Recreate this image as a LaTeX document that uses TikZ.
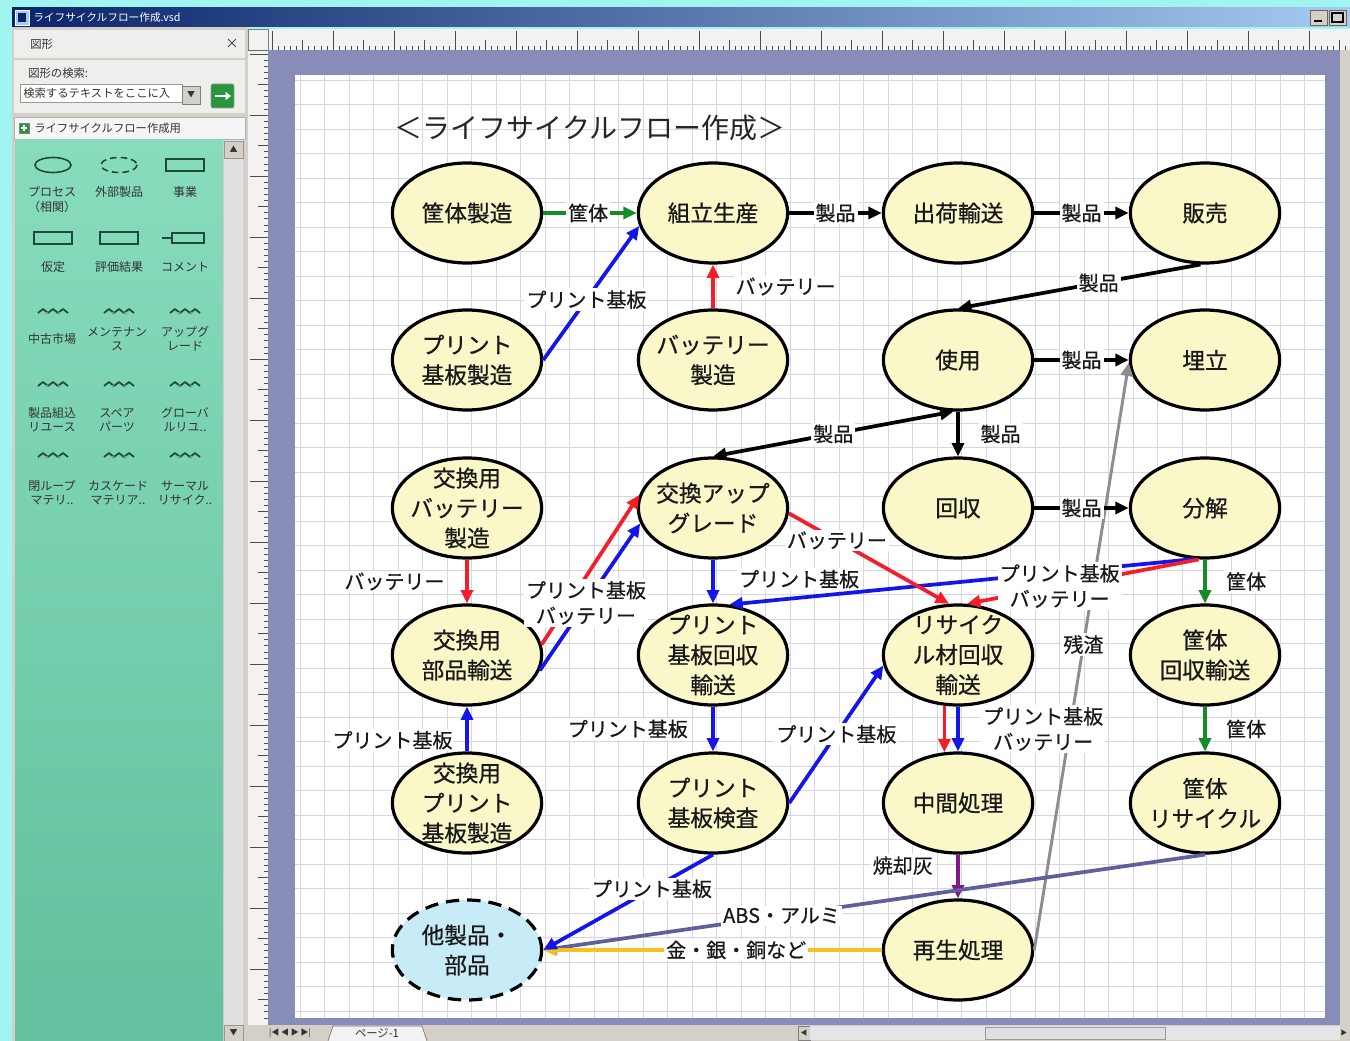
\documentclass[tikz,border=0pt]{standalone}
\usepackage{fontspec}
\setmainfont{Noto Sans CJK JP}
\newfontfamily\jpthick{Noto Sans CJK JP}[FakeBold=0.7]
\usetikzlibrary{shapes.geometric,arrows.meta,calc}
\definecolor{aqua}{RGB}{160,245,240}
\definecolor{navy}{RGB}{10,36,106}
\definecolor{tbright}{RGB}{166,202,240}
\definecolor{panelgray}{RGB}{212,208,200}
\definecolor{paneltop}{RGB}{238,238,236}
\definecolor{mintl}{RGB}{135,220,188}
\definecolor{mintd}{RGB}{100,192,158}
\definecolor{canvasblue}{RGB}{135,140,185}
\definecolor{rulerc}{RGB}{242,242,242}
\definecolor{gridc}{RGB}{212,214,226}
\definecolor{procfill}{RGB}{250,248,200}
\definecolor{extfill}{RGB}{200,235,248}
\definecolor{cblue}{RGB}{20,20,235}
\definecolor{cred}{RGB}{245,30,40}
\definecolor{cgreen}{RGB}{20,140,40}
\definecolor{cpurple}{RGB}{130,20,140}
\definecolor{cslate}{RGB}{95,95,155}
\definecolor{cgold}{RGB}{245,195,30}
\definecolor{cgray}{RGB}{140,140,145}
\definecolor{icong}{RGB}{30,75,55}
\definecolor{btngreen}{RGB}{40,150,60}
\newcommand\wavicon[2]{%
  \draw[icong,line width=1.3pt,line join=round] ({#1-15},{#2+2}) -- ({#1-10},{#2-2}) -- ({#1-5},{#2+2}) -- ({#1},{#2-2}) -- ({#1+5},{#2+2}) -- ({#1+10},{#2-2}) -- ({#1+15},{#2+2});
  \fill[icong!60] ({#1-6},{#2+2}) circle (1.5);
  \fill[icong!60] ({#1+6},{#2+2}) circle (1.5);}
\begin{document}
\begin{tikzpicture}[x=0.75pt,y=-0.75pt,
  proc/.style={ellipse,draw=black,line width=2.4pt,fill=procfill,minimum width=112pt,minimum height=75pt,inner xsep=-6pt,inner ysep=-6pt,align=center,text=black!90,font=\jpthick\fontsize{17}{22.5}\selectfont},
  ext/.style={proc,fill=extfill,dash pattern=on 10pt off 6pt},
  flow/.style={line width=2.8pt,-{Triangle[length=10pt,width=9pt]}},
  lbl/.style={fill=white,inner sep=1.5pt,text=black!90,align=center,font=\jpthick\fontsize{15}{19}\selectfont},
  gridl/.style={draw=gridc,line width=0.5pt},
  tickl/.style={draw=black!70,line width=0.4pt},
  ui/.style={font=\fontsize{8.5}{10}\selectfont,text=black!80,inner sep=0pt},
  sten/.style={font=\fontsize{9}{10.5}\selectfont,text=black!80,align=center,inner sep=0pt},
]
\useasboundingbox (0,0) rectangle (1350,1041);
% ---------- window chrome ----------
\fill[aqua] (0,0) rectangle (1350,1041);
\shade[left color=navy,right color=tbright] (12,8) rectangle (1350,27);
\draw[white,fill=tbright] (15,10) rectangle (29,25);
\fill[navy] (18,13) rectangle (26,22);
\node[anchor=west,text=white,font=\fontsize{8}{9}\selectfont,inner sep=0pt] (wtitle) at (33,17) {ライフサイクルフロー作成.vsd};
\draw[black!60,fill=panelgray] (1310,10) rectangle (1327,25);
\draw[black,line width=1.2pt] (1314,21) -- (1322,21);
\draw[black!60,fill=panelgray] (1329,10) rectangle (1346,25);
\draw[black,line width=0.8pt] (1332,13) rectangle (1343,22);
% left panel
\fill[panelgray] (12,27) rectangle (248,1041);
\fill[paneltop] (14,30) rectangle (245,58);
\node[ui,anchor=west] (pnl) at (30,44) {図形};
\node[ui,font=\fontsize{10}{10}\selectfont] (pclose) at (232,44) {×};
\fill[paneltop] (14,60) rectangle (245,113);
\node[ui,anchor=west] (srch) at (28,73) {図形の検索:};
\draw[black!40,fill=white] (20,84) rectangle (182,102);
\node[ui,anchor=west] (srchtxt) at (23,93) {検索するテキストをここに入};
\draw[black!50,fill=panelgray] (182,86) rectangle (200,104);
\node[ui,font=\fontsize{6}{6}\selectfont] (dd) at (191,95) {▼};
\draw[black!40,fill=btngreen,rounded corners=1.5] (211,84) rectangle (234,108);
\draw[white,line width=1.8pt,-{Triangle[length=4pt,width=6pt]}] (215,96) -- (231,96);
\draw[black!30,fill=white!96!black] (14,117) rectangle (245,139);
\draw[black!50,fill=btngreen] (19,123) rectangle (29,133);
\draw[white,line width=0.9pt] (21,128) -- (27,128) (24,125) -- (24,131);
\node[ui,anchor=west] (stitle) at (34,128) {ライフサイクルフロー作成用};
\shade[top color=mintl,bottom color=mintd] (15,140) rectangle (223,1041);
\fill[black!12] (224,140) rectangle (243,1041);
\draw[black!40,fill=panelgray] (224,141) rectangle (243,158);
\node[ui,font=\fontsize{6}{6}\selectfont] (sup) at (233.5,149.5) {▲};
\draw[black!40,fill=panelgray] (224,1025) rectangle (243,1041);
\node[ui,font=\fontsize{6}{6}\selectfont] (sdn) at (233.5,1033) {▼};
% stencil items
\draw[icong,line width=1.2pt] (53,165) ellipse (18 and 7.5);
\draw[icong,line width=1.2pt,dash pattern=on 5pt off 3pt] (119,165) ellipse (18 and 7.5);
\draw[icong,line width=1.2pt] (166,159) rectangle (204,171);
\node[sten] (s1) at (52,192) {プロセス};
\node[sten] (s1b) at (52,207) {（相関）};
\node[sten] (s2) at (119,192) {外部製品};
\node[sten] (s3) at (185,192) {事業};
\draw[icong,line width=1.2pt] (34,232) rectangle (72,244);
\draw[icong,line width=1.2pt] (100,232) rectangle (138,244);
\draw[icong,line width=1.2pt] (172,233) rectangle (204,243);
\draw[icong,line width=1.2pt] (162,238) -- (172,238);
\node[sten] (s4) at (53,267) {仮定};
\node[sten] (s5) at (119,267) {評価結果};
\node[sten] (s6) at (185,267) {コメント};
\wavicon{53}{311}\wavicon{119}{311}\wavicon{185}{311}
\node[sten] (s7) at (52,339) {中古市場};
\node[sten] (s8) at (117,339) {メンテナン\\ス};
\node[sten] (s9) at (185,339) {アップグ\\レード};
\wavicon{53}{384}\wavicon{119}{384}\wavicon{185}{384}
\node[sten] (s10) at (52,420) {製品組込\\リユース};
\node[sten] (s11) at (117,420) {スペア\\パーツ};
\node[sten] (s12) at (185,420) {グローバ\\ルリユ..};
\wavicon{53}{455}\wavicon{119}{455}\wavicon{185}{455}
\node[sten] (s13) at (52,493) {閉ループ\\マテリ..};
\node[sten] (s14) at (118,493) {カスケード\\マテリア..};
\node[sten] (s15) at (185,493) {サーマル\\リサイク..};
% rulers
\fill[rulerc] (248,29) rectangle (1350,50);
\fill[rulerc] (248,50) rectangle (268,1025);
\draw[black!50] (248,29) rectangle (268,50);
\foreach \i in {0,...,176} \draw[tickl] ({272+6.1*\i},50) -- ({272+6.1*\i},46);
\foreach \i in {0,...,35} \draw[tickl] ({272+30.5*\i},50) -- ({272+30.5*\i},40);
\foreach \i in {0,...,17} \draw[tickl] ({272+61*\i},50) -- ({272+61*\i},31);
\foreach \i in {0,...,158} \draw[tickl] (268,{54+6.1*\i}) -- (264,{54+6.1*\i});
\foreach \i in {0,...,31} \draw[tickl] (268,{54+30.5*\i}) -- (258,{54+30.5*\i});
\foreach \i in {0,...,15} \draw[tickl] (268,{54+61*\i}) -- (250,{54+61*\i});
\draw[black!60] (248,50) -- (1350,50);
\draw[black!60] (268,50) -- (268,1025);
% canvas and page
\fill[canvasblue] (268,50) rectangle (1340,1025);
\fill[white] (295,75) rectangle (1325,1018);
\foreach \i in {0,...,41} \draw[gridl] ({300+24.5*\i},75) -- ({300+24.5*\i},1018);
\foreach \j in {0,...,38} \draw[gridl] (295,{80+24.5*\j}) -- (1325,{80+24.5*\j});
\fill[panelgray] (1340,50) rectangle (1350,1025);
% bottom bar
\fill[panelgray] (248,1025) rectangle (1350,1041);
\node[ui,font=\fontsize{6}{6}\selectfont] (nav) at (290,1033) {|◀ ◀ ▶ ▶|};
\draw[black!60,fill=white!95!black] (328,1041) -- (333,1026) -- (422,1026) -- (427,1041);
\node[ui] (tab) at (377,1033) {ページ-1};
\draw[black!50,fill=panelgray] (798,1026) rectangle (810,1040);
\node[ui,font=\fontsize{5}{5}\selectfont] (hl) at (804,1033) {◀};
\fill[black!10] (810,1026) rectangle (1340,1040);
\draw[black!40,fill=white!88!black] (985,1027) rectangle (1165,1039);
\node[ui,font=\fontsize{5}{5}\selectfont] (hr) at (1344,1033) {▶};
% ---------- diagram ----------
\node[font=\fontsize{21}{24}\selectfont,text=black!85] (title) at (590,128) {＜ライフサイクルフロー作成＞};
\node[proc] (A) at (467,213) {筐体製造};
\node[proc] (B) at (713,213) {組立生産};
\node[proc] (C) at (958,213) {出荷輸送};
\node[proc] (D) at (1205,213) {販売};
\node[proc] (E) at (467,360) {プリント\\基板製造};
\node[proc] (F) at (713,360) {バッテリー\\製造};
\node[proc] (G) at (958,360) {使用};
\node[proc] (H) at (1205,360) {埋立};
\node[proc] (I) at (467,508) {交換用\\バッテリー\\製造};
\node[proc] (J) at (713,508) {交換アップ\\グレード};
\node[proc] (K) at (958,508) {回収};
\node[proc] (L) at (1205,508) {分解};
\node[proc] (M) at (467,655) {交換用\\部品輸送};
\node[proc] (N) at (713,655) {プリント\\基板回収\\輸送};
\node[proc] (O) at (958,655) {リサイク\\ル材回収\\輸送};
\node[proc] (P) at (1205,655) {筐体\\回収輸送};
\node[proc] (Q) at (467,803) {交換用\\プリント\\基板製造};
\node[proc] (R) at (713,803) {プリント\\基板検査};
\node[proc] (S) at (958,803) {中間処理};
\node[proc] (T) at (1205,803) {筐体\\リサイクル};
\node[ext] (U) at (467,950) {他製品・\\部品};
\node[proc] (V) at (958,950) {再生処理};
% connectors
\draw[flow,cgray,line width=2.2pt] (V.east) -- node[lbl,pos=.52] (l26) {残渣} (H.182);
\draw[flow,cgreen] (A.east) -- node[lbl,pos=.48] (l1) {筐体} (B.west);
\draw[flow,cblue] (E.east) -- node[lbl,pos=.45] (l2) {プリント基板} (B.190);
\draw[flow,cred] (F.north) -- node[lbl,anchor=west,xshift=14pt] (l3) {バッテリー} (B.south);
\draw[flow] (B.east) -- node[lbl] (l4) {製品} (C.west);
\draw[flow] (C.east) -- node[lbl] (l5) {製品} (D.west);
\draw[flow] (D.265) -- node[lbl,pos=.42] (l6) {製品} (G.north);
\draw[flow] (G.east) -- node[lbl] (l7) {製品} (H.west);
\draw[line width=2.8pt,{Triangle[length=10pt,width=9pt]}-{Triangle[length=10pt,width=9pt]}] (G.265) -- node[lbl] (l8) {製品} (J.north);
\draw[flow] (G.south) -- node[lbl,anchor=west,xshift=14pt] (l9) {製品} (K.north);
\draw[flow] (K.east) -- node[lbl] (l10) {製品} (L.west);
\draw[flow,cred] (I.south) -- node[lbl,anchor=east,xshift=-14pt] (l11) {バッテリー} (M.north);
\draw[flow,cblue] (Q.north) -- node[lbl,pos=.25,anchor=east,xshift=-8pt] (l13) {プリント基板} (M.south);
\draw[flow,cred] (M.8) -- (J.170);
\draw[flow,cblue] (M.-12) -- node[lbl,pos=.46] (l12) {プリント基板\\バッテリー} (J.192);
\draw[flow,cblue] (J.south) -- (N.north);
\draw[flow,cblue] (L.258) -- node[lbl,pos=.85,yshift=14pt] (l14) {プリント基板} (N.72);
\draw[flow,cred] (L.263) -- node[lbl,pos=.6] (l15) {プリント基板\\バッテリー} (O.80);
\draw[flow,cred] (J.-4) -- node[lbl,pos=.3] (l16) {バッテリー} (O.100);
\draw[flow,cblue] (N.south) -- node[lbl,anchor=east,xshift=-16pt] (l17) {プリント基板} (R.north);
\draw[flow,cblue] (R.east) -- node[lbl] (l18) {プリント基板} (O.188);
\draw[flow,cred] (O.255) -- (S.105);
\draw[flow,cblue] (O.south) -- node[lbl,anchor=west,xshift=16pt] (l19) {プリント基板\\バッテリー} (S.north);
\draw[flow,cpurple] (S.south) -- node[lbl,pos=.25,anchor=east,xshift=-16pt] (l20) {焼却灰} (V.north);
\draw[flow,cgreen] (L.south) -- node[lbl,anchor=west,xshift=13pt] (l21) {筐体} (P.north);
\draw[flow,cgreen] (P.south) -- node[lbl,anchor=west,xshift=13pt] (l22) {筐体} (T.north);
\draw[flow,cslate] (T.south) -- node[lbl,pos=.64] (l23) {ABS・アルミ} (U.east);
\draw[flow,cgold] (V.west) -- node[lbl,pos=.43] (l24) {金・銀・銅など} (U.east);
\draw[flow,cblue] (R.south) -- node[lbl,pos=.36] (l25) {プリント基板} (U.east);
\end{tikzpicture}
\end{document}
